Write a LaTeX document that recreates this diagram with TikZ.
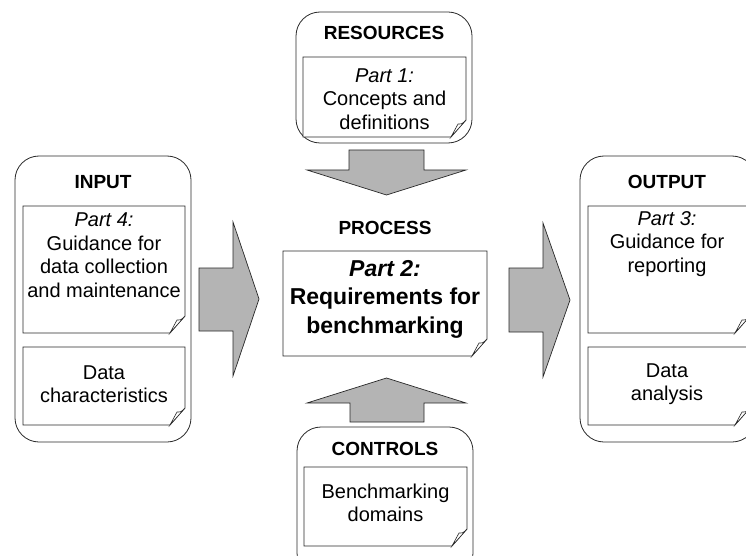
\documentclass[tikz,border=0pt]{standalone}
\usepackage{fontspec}
\setmainfont{Liberation Sans}
\definecolor{arrowgray}{RGB}{180,180,180}
\definecolor{linegray}{RGB}{40,40,40}
\newcommand\paperbox[4]{%
  \path[paper] (#1,#2) -- (#3,#2) -- (#3,#4-17) -- (#3-15,#4) -- (#1,#4) -- cycle;
  \path[flap] (#3,#4-17) .. controls (#3-4,#4-13) .. (#3-8,#4-13) -- (#3-15,#4) -- cycle;
}
\begin{document}
\begin{tikzpicture}[x=1pt,y=-1pt,
  frame/.style={draw=linegray, line width=0.8pt, rounded corners=24pt, minimum width=176pt, inner sep=0pt},
  paper/.style={draw=linegray, fill=white, line width=0.7pt},
  flap/.style={draw=linegray, line width=0.6pt, fill=white},
  blockarrow/.style={draw=linegray, line width=0.7pt, fill=arrowgray},
  title/.style={font=\fontsize{19}{23}\selectfont\bfseries, inner sep=0pt},
  body/.style={font=\fontsize{20}{23.5}\selectfont, align=center, inner sep=0pt},
  ptext/.style={font=\fontsize{23}{28.5}\selectfont\bfseries, align=center, inner sep=0pt}]
\useasboundingbox (0,0) rectangle (746,556);
\clip (0,0) rectangle (746,556);

% outer frames
\node[frame, minimum height=286pt] (input) at (103,299) {};
\node[frame, minimum height=286pt] (output) at (668,299) {};
\node[frame, minimum height=131pt] (resources) at (384,77.5) {};
\node[frame, minimum height=150pt] (controls) at (385,502) {};

% titles
\node[title] (tin) at (103,182) {INPUT};
\node[title] (tout) at (667,182) {OUTPUT};
\node[title] (tres) at (384,33) {RESOURCES};
\node[title] (tcon) at (385,449) {CONTROLS};
\node[title] (tproc) at (385,228) {PROCESS};

% paper boxes
\paperbox{23}{206}{185}{333}
\paperbox{23}{347}{185}{425}
\paperbox{588}{206}{750}{333}
\paperbox{588}{347}{750}{425}
\paperbox{303}{57}{466}{137}
\paperbox{304}{467}{467}{546}
\paperbox{283}{251}{487}{356}

% texts
\node[body] (p4) at (104,255) {\textit{Part 4:}\\Guidance for\\data collection\\and maintenance};
\node[body] (dc) at (104,384) {Data\\characteristics};
\node[body] (p3) at (667,244) {\textit{Part 3:}\\Guidance for\\reporting};
\node[body] (da) at (667,384) {Data\\analysis};
\node[body] (p1) at (384.5,99) {\textit{Part 1:}\\Concepts and\\definitions};
\node[body] (bd) at (385.5,503) {Benchmarking\\domains};
\node[ptext] (p2) at (385,299) {\textit{Part 2:}\\Requirements for\\benchmarking};

% block arrows
\path[blockarrow] (349,150) -- (424,150) -- (424,170) -- (466,170) -- (386.5,195)
  -- (307,170) -- (349,170) -- cycle;
\path[blockarrow] (350,422) -- (424,422) -- (424,403) -- (466,403) -- (386.5,378)
  -- (307,403) -- (350,403) -- cycle;
\path[blockarrow] (199,268) -- (233,268) -- (233,222) -- (259,299) -- (233,376)
  -- (233,331) -- (199,331) -- cycle;
\path[blockarrow] (509,268) -- (543,268) -- (543,223) -- (570,300) -- (543,377)
  -- (543,332) -- (509,332) -- cycle;
\end{tikzpicture}
\end{document}
